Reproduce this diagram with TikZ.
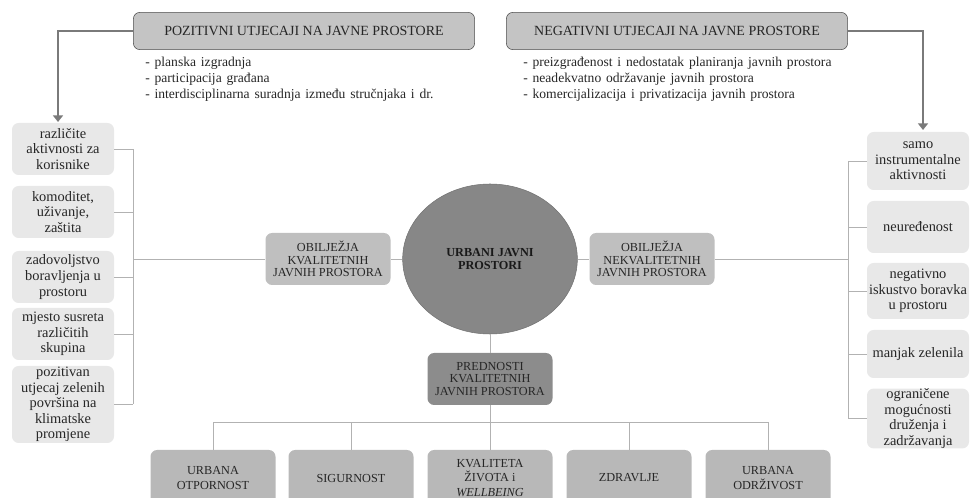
\documentclass[tikz,border=0pt]{standalone}
\usepackage{fontspec}
\setmainfont{Liberation Serif}
\usetikzlibrary{arrows.meta,positioning,calc,shapes.geometric}
\newcommand\listfont{\fontsize{10.2}{12}\selectfont\spaceskip=3.6pt plus 1pt\relax}

\tikzset{
  topbox/.style={draw=black!70,fill=black!23,rounded corners=5pt,inner sep=0pt,
    minimum width=256pt,minimum height=28pt,text=black!85,font=\fontsize{10.5}{12}\selectfont},
  listtext/.style={anchor=north west,align=left,inner sep=0pt,text=black!85,font=\listfont},
  sidebox/.style={fill=black!9,rounded corners=5pt,inner sep=0pt,align=center,
    minimum width=76.5pt,text=black!85,font=\fontsize{10.8}{11.7}\selectfont},
  midbox/.style={fill=black!25,rounded corners=5pt,inner sep=0pt,align=center,
    minimum width=93.75pt,minimum height=39pt,text=black!85,font=\fontsize{9.2}{9.6}\selectfont},
  botbox/.style={fill=black!28,rounded corners=5pt,inner sep=0pt,align=center,
    minimum width=93.75pt,minimum height=42pt,text=black!85,font=\fontsize{9.2}{11}\selectfont},
  link/.style={draw=black!30,line width=0.6pt},
  arr/.style={draw=black!52,line width=2.2pt,-{Triangle[length=5pt,width=7.5pt]}}
}

\begin{document}
\begin{tikzpicture}[x=0.75pt,y=-0.75pt]
\useasboundingbox (0,0) rectangle (971,498);

\node[topbox] (pos) at (304,31) {POZITIVNI UTJECAJI NA JAVNE PROSTORE};
\node[topbox] (neg) at (677,31) {NEGATIVNI UTJECAJI NA JAVNE PROSTORE};
\node[listtext] (posl) at (145,57) {- planska izgradnja\\- participacija građana\\- interdisciplinarna suradnja između stručnjaka i dr.};
\node[listtext] (negl) at (523,57) {- preizgrađenost i nedostatak planiranja javnih prostora\\- neadekvatno održavanje javnih prostora\\- komercijalizacija i privatizacija javnih prostora};

\node[sidebox,minimum height=39pt] (lc1) at (63,149) {različite\\aktivnosti za\\korisnike};
\node[sidebox,minimum height=39pt] (lc2) at (63,212) {komoditet,\\uživanje,\\zaštita};
\node[sidebox,minimum height=39pt] (lc3) at (63,277) {zadovoljstvo\\boravljenja u\\prostoru};
\node[sidebox,minimum height=39pt] (lc4) at (63,334) {mjesto susreta\\različitih\\skupina};
\node[sidebox,minimum height=57.75pt] (lc5) at (63,404.5) {pozitivan\\utjecaj zelenih\\površina na\\klimatske\\promjene};

\node[sidebox,minimum height=43.5pt] (rc1) at (918,161) {samo\\instrumentalne\\aktivnosti};
\node[sidebox,minimum height=39pt] (rc2) at (918,227) {neuređenost};
\node[sidebox,minimum height=42pt] (rc3) at (918,291) {negativno\\iskustvo boravka\\u prostoru};
\node[sidebox,minimum height=36pt] (rc4) at (918,354) {manjak zelenila};
\node[sidebox,minimum height=44.25pt] (rc5) at (918,418.5) {ograničene\\mogućnosti\\druženja i\\zadržavanja};

\node[ellipse,fill=black!47,draw=black!55,inner sep=0pt,minimum width=131pt,minimum height=112.5pt,
  align=center,text=black!90,font=\bfseries\fontsize{9.2}{9.6}\selectfont] (ujp) at (490,259) {URBANI JAVNI\\PROSTORI};
\node[midbox] (obk) at (328,259) {OBILJEŽJA\\KVALITETNIH\\JAVNIH PROSTORA};
\node[midbox] (obn) at (652,259) {OBILJEŽJA\\NEKVALITETNIH\\JAVNIH PROSTORA};
\node[midbox,fill=black!45] (pred) at (490,379) {PREDNOSTI\\KVALITETNIH\\JAVNIH PROSTORA};

\node[botbox] (b1) at (213,478) {URBANA\\OTPORNOST};
\node[botbox] (b2) at (351,478) {SIGURNOST};
\node[botbox] (b3) at (490,478) {KVALITETA\\ŽIVOTA i\\\textit{WELLBEING}};
\node[botbox] (b4) at (629,478) {ZDRAVLJE};
\node[botbox] (b5) at (768,478) {URBANA\\ODRŽIVOST};

\coordinate (la) at (58,122);
\coordinate (ra) at (923,130);
\draw[arr] (pos.west) -| (la);
\draw[arr] (neg.east) -| (ra);

\coordinate (lb) at (133,259);
\coordinate (rb) at (848,259);
\coordinate (bus) at (490,422);
\foreach \i in {1,...,5}{
  \draw[link] (lc\i.east) -- (lc\i.east -| lb);
  \draw[link] (rc\i.west) -- (rc\i.west -| rb);
  \draw[link] (b\i.north) -- (b\i.north |- bus);
}
\draw[link] (lc1.east -| lb) -- (lc5.east -| lb);
\draw[link] (rc1.west -| rb) -- (rc5.west -| rb);
\draw[link] (lb) -- (obk.west);
\draw[link] (obk.east) -- (ujp.west);
\draw[link] (ujp.east) -- (obn.west);
\draw[link] (obn.east) -- (rb);
\draw[link] (ujp.south) -- (pred.north);
\draw[link] (pred.south) -- (bus);
\draw[link] (b1.north |- bus) -- (b5.north |- bus);
\end{tikzpicture}
\end{document}
